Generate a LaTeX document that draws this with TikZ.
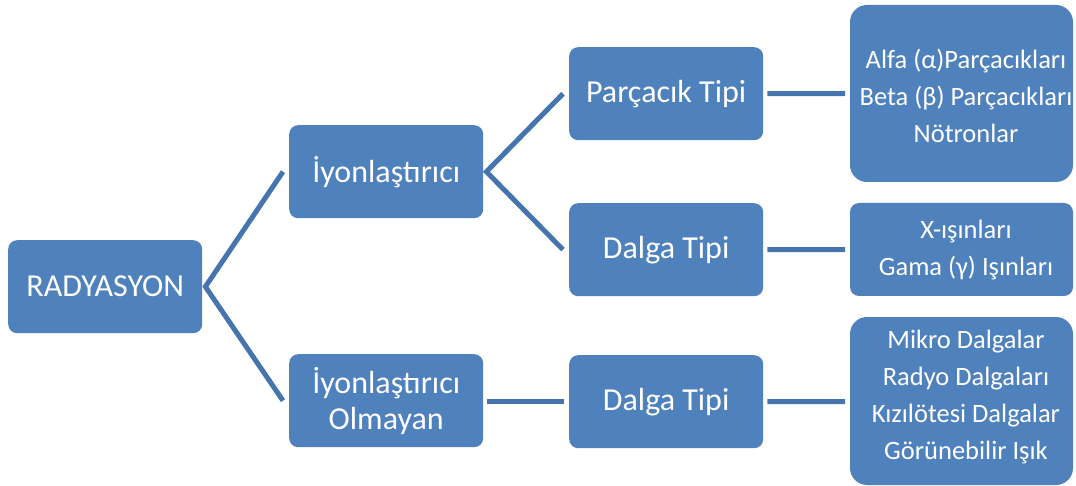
\documentclass[tikz,border=0pt]{standalone}
\usepackage{fontspec}
\setmainfont{Carlito}
\definecolor{boxblue}{HTML}{4F81BD}
\definecolor{lineblue}{HTML}{4674AE}
\begin{document}
\begin{tikzpicture}[x=1pt,y=-1pt,
  mainbox/.style={fill=boxblue,draw=none,rounded corners=9pt,minimum width=194pt,minimum height=93pt,
    text=white,font=\fontsize{32}{36}\selectfont,align=center,inner sep=0pt,anchor=north west},
  leafbox/.style={fill=boxblue,draw=none,rounded corners=#1,text=white,inner sep=0pt},
  leaftext/.style={text=white,font=\fontsize{26.5}{37}\selectfont,align=center,inner sep=0pt},
  conn/.style={draw=lineblue,line width=5pt}]
\useasboundingbox (0,0) rectangle (1076,486);
\node[mainbox] (rad) at (8,240) {RADYASYON};
\node[mainbox] (iyon) at (289,125) {İyonlaştırıcı};
\node[mainbox] (iyono) at (289,354) {İyonlaştırıcı\\Olmayan};
\node[mainbox] (parc) at (569,47) {Parçacık Tipi};
\node[mainbox] (dal1) at (569,203) {Dalga Tipi};
\node[mainbox] (dal2) at (569,355) {Dalga Tipi};
% leaf boxes
\path[leafbox=17pt] (850,5) rectangle (1073,182);
\node[leaftext] (leaf1) at (966,96) {Alfa (α)Parçacıkları\\Beta (β) Parçacıkları\\Nötronlar};
\path[leafbox=9pt] (850,203) rectangle (1073,296);
\node[leaftext] (leaf2) at (966,250) {X-ışınları\\Gama (γ) Işınları};
\path[leafbox=17pt] (850,317) rectangle (1073,485);
\node[leaftext] (leaf3) at (966,397) {Mikro Dalgalar\\Radyo Dalgaları\\Kızılötesi Dalgalar\\Görünebilir Işık};
% connectors
\coordinate (v1) at ([xshift=3pt]rad.east);
\coordinate (v2) at ([xshift=3pt]iyon.east);
\draw[conn,line join=miter] ([xshift=-6pt]iyon.west) -- (v1) -- ([xshift=-6pt]iyono.west);
\draw[conn,line join=miter] ([xshift=-6pt]parc.west) -- (v2) -- ([xshift=-6pt]dal1.west);
\draw[conn] ([xshift=4pt]dal2.west -| iyono.east) -- ([xshift=-5pt]dal2.west);
\coordinate (l1) at (850,93.5);
\coordinate (l2) at (850,249.5);
\coordinate (l3) at (850,401.5);
\draw[conn] ([xshift=4pt]parc.east) -- ([xshift=-5pt]l1);
\draw[conn] ([xshift=4pt]dal1.east) -- ([xshift=-5pt]l2);
\draw[conn] ([xshift=4pt]dal2.east) -- ([xshift=-5pt]l3);
\end{tikzpicture}
\end{document}
